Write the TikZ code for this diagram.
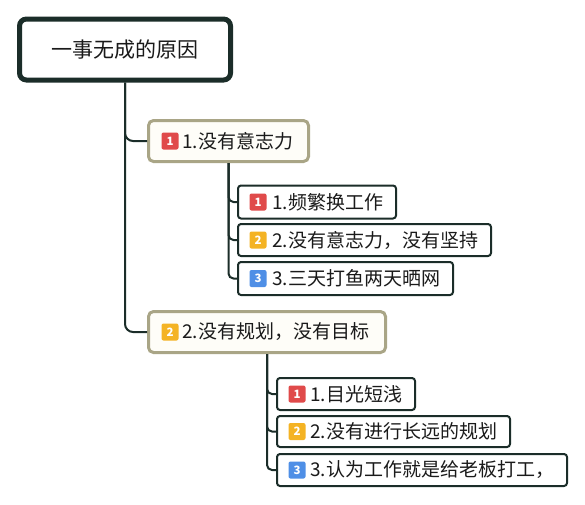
\documentclass[tikz,border=0pt]{standalone}
\usepackage{fontspec}
\setmainfont{Noto Sans CJK SC}
\definecolor{darkline}{HTML}{1B2D29}
\definecolor{khaki}{HTML}{A9A586}
\definecolor{cream}{HTML}{FEFDF8}
\definecolor{bred}{HTML}{E04A4A}
\definecolor{borange}{HTML}{F4B324}
\definecolor{bblue}{HTML}{4F8FE6}
\definecolor{txt}{HTML}{1A1A1A}
\tikzset{
  rootbox/.style={draw=darkline, line width=5pt, rounded corners=7pt, fill=white, inner sep=0pt},
  branchbox/.style={draw=khaki, line width=3pt, rounded corners=5pt, fill=cream, inner sep=0pt},
  childbox/.style={draw=darkline, line width=2pt, rounded corners=3pt, fill=white, inner sep=0pt},
  badge/.style={rounded corners=2pt, minimum width=17pt, minimum height=17pt, inner sep=0pt, text=white, font=\fontsize{11.5}{12}\selectfont\bfseries},
  label/.style={anchor=west, inner sep=0pt, text=txt, font=\fontsize{19}{21}\selectfont},
  conn/.style={draw=darkline, line width=2pt, rounded corners=8pt},
}
\begin{document}
\begin{tikzpicture}[x=1pt, y=1pt]
\useasboundingbox (0,0) rectangle (585,-504);
% root
\node[rootbox, minimum width=211pt, minimum height=61pt] (root) at (125,-49.5) {};
\node[inner sep=0pt, text=txt, font=\fontsize{21}{23}\selectfont] (roott) at (125,-50) {一事无成的原因};
% branches
\node[branchbox, minimum width=160pt, minimum height=41pt] (b1) at (228.5,-141) {};
\node[badge, fill=bred] (b1b) at (170,-141) {1};
\node[label] (b1t) at (182,-141) {1.没有意志力};
\node[branchbox, minimum width=237pt, minimum height=41pt] (b2) at (267,-332) {};
\node[badge, fill=borange] (b2b) at (170,-332) {2};
\node[label] (b2t) at (182,-332) {2.没有规划，没有目标};
% children of b1
\node[childbox, minimum width=158pt, minimum height=33pt] (c1) at (317,-202) {};
\node[badge, fill=bred] (c1b) at (258,-202) {1};
\node[label] (c1t) at (272,-202) {1.频繁换工作};
\node[childbox, minimum width=253pt, minimum height=32pt] (c2) at (364.5,-240) {};
\node[badge, fill=borange] (c2b) at (258,-240) {2};
\node[label] (c2t) at (272,-240) {2.没有意志力，没有坚持};
\node[childbox, minimum width=215pt, minimum height=33pt] (c3) at (345.5,-278.5) {};
\node[badge, fill=bblue] (c3b) at (258,-278.5) {3};
\node[label] (c3t) at (272,-278.5) {3.三天打鱼两天晒网};
% children of b2
\node[childbox, minimum width=138pt, minimum height=32pt] (d1) at (346,-394) {};
\node[badge, fill=bred] (d1b) at (297,-394) {1};
\node[label] (d1t) at (310,-394) {1.目光短浅};
\node[childbox, minimum width=233pt, minimum height=31pt] (d2) at (393.5,-431.5) {};
\node[badge, fill=borange] (d2b) at (297,-431.5) {2};
\node[label] (d2t) at (310,-431.5) {2.没有进行长远的规划};
\node[childbox, minimum width=290pt, minimum height=32pt] (d3) at (422,-470) {};
\node[badge, fill=bblue] (d3b) at (297,-470) {3};
\node[label] (d3t) at (310,-470) {3.认为工作就是给老板打工，};
% connectors
\draw[conn] (root.south) |- (b1.west);
\draw[conn] (root.south) |- (b2.west);
\draw[conn, rounded corners=5pt] (b1.south) |- (c1.west);
\draw[conn, rounded corners=5pt] (b1.south) |- (c2.west);
\draw[conn, rounded corners=5pt] (b1.south) |- (c3.west);
\draw[conn, rounded corners=5pt] (b2.south) |- (d1.west);
\draw[conn, rounded corners=5pt] (b2.south) |- (d2.west);
\draw[conn, rounded corners=5pt] (b2.south) |- (d3.west);
\end{tikzpicture}
\end{document}
